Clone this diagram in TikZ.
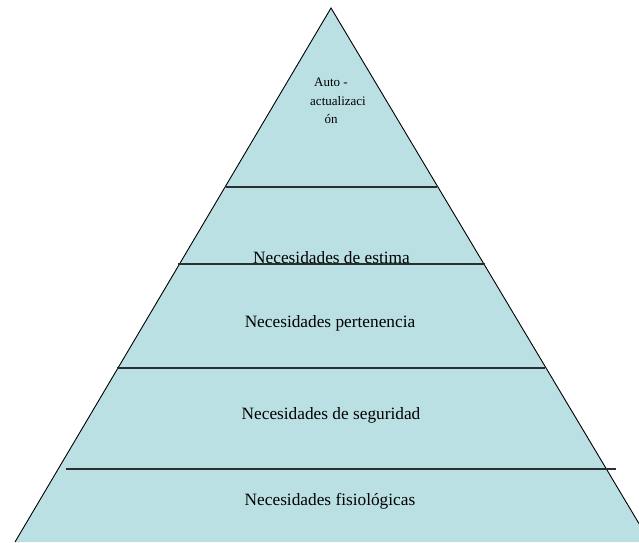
\documentclass[tikz,border=0pt]{standalone}
\usepackage{fontspec}
\setmainfont{Liberation Serif}
\definecolor{pyrfill}{RGB}{186,224,228}
\definecolor{tierline}{RGB}{40,48,48}
\begin{document}
\begin{tikzpicture}[x=1pt,y=-1pt,
  edge/.style={draw=black,line width=0.9pt},
  tier/.style={draw=tierline,line width=1.6pt},
  lvl/.style={font=\fontsize{17.3}{20}\selectfont,inner sep=0pt},
  top/.style={font=\fontsize{13}{15}\selectfont,inner sep=0pt}]
  \useasboundingbox (0,0) rectangle (639,542);
  \fill[white] (0,0) rectangle (639,542);
  \clip (0,0) rectangle (639,542);
  % pyramid outline
  \coordinate (apex) at (331,8);
  \coordinate (bl) at (15,542);
  \coordinate (br) at (650,542);
  \fill[pyrfill] (apex) -- (bl) -- (br) -- cycle;
  \draw[edge] (bl) -- (apex) -- (br);
  % dividing lines between the levels
  \coordinate (l1a) at (226,187);  \coordinate (l1b) at (437,187);
  \coordinate (l2a) at (178,264);  \coordinate (l2b) at (485,264);
  \coordinate (l3a) at (117,368);  \coordinate (l3b) at (545,368);
  \coordinate (l4a) at (66,469);   \coordinate (l4b) at (616,469);
  \draw[tier] (l1a) -- (l1b);
  \draw[tier] (l2a) -- (l2b);
  \draw[tier] (l3a) -- (l3b);
  \draw[tier] (l4a) -- (l4b);
  % level labels
  \node[top] (t1) at (331,82) {Auto -};
  \node[top] (t2) at (338,101) {actualizaci};
  \node[top] (t3) at (331,119) {ón};
  \node[lvl,anchor=base] (n1) at (331.5,263) {Necesidades de estima};
  \node[lvl] (n2) at (330,323) {Necesidades pertenencia};
  \node[lvl] (n3) at (331,415) {Necesidades de seguridad};
  \node[lvl] (n4) at (330,501) {Necesidades fisiológicas};
\end{tikzpicture}
\end{document}
